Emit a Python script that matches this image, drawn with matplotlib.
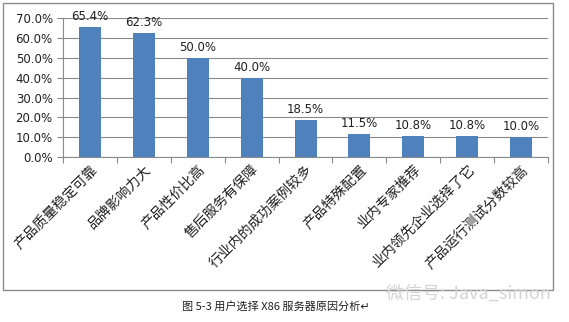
import matplotlib.pyplot as plt
from matplotlib.patches import Rectangle
from matplotlib.ticker import FuncFormatter, MultipleLocator

plt.rcParams['font.family'] = ['Noto Sans CJK SC', 'DejaVu Sans']

reasons = ['产品质量稳定可靠', '品牌影响力大', '产品性价比高', '售后服务有保障',
           '行业内的成功案例较多', '产品特殊配置', '业内专家推荐',
           '业内领先企业选择了它', '产品运行测试分数较高']
shares = [65.4, 62.3, 50.0, 40.0, 18.5, 11.5, 10.8, 10.8, 10.0]

fig = plt.figure(figsize=(5.69, 3.22), dpi=100)
fig.patch.set_facecolor('white')

# outer chart frame
fig.add_artist(Rectangle((0.006, 0.100), 0.966, 0.890, transform=fig.transFigure,
                         fill=False, edgecolor='#8c8c8c', linewidth=1))

ax = fig.add_axes([0.111, 0.512, 0.852, 0.432])
x = range(len(reasons))
ax.bar(x, shares, width=0.41, color='#4f81bd', zorder=3)
for i, v in enumerate(shares):
    ax.text(i, v + 2, f'{v:.1f}%', ha='center', va='bottom', fontsize=8.5,
            family=['DejaVu Sans'], color='#202020')

ax.set_xlim(-0.5, len(reasons) - 0.5)
ax.set_ylim(0, 70)
ax.yaxis.set_major_locator(MultipleLocator(10))
ax.yaxis.set_major_formatter(FuncFormatter(lambda v, p: f'{v:.1f}%'))
ax.grid(axis='y', color='#8a8a8a', linewidth=0.8, zorder=0)
for s in ['top', 'right']:
    ax.spines[s].set_visible(False)
ax.spines['left'].set_color('#8a8a8a')
ax.spines['bottom'].set_color('#8a8a8a')

ax.set_xticks([i - 0.5 for i in range(len(reasons) + 1)], minor=False)
ax.set_xticklabels([])
ax.set_xticks(list(x), minor=True)
ax.set_xticklabels(reasons, minor=True, rotation=45, ha='right',
                   rotation_mode='anchor', fontsize=10, color='#202020')
ax.tick_params(axis='x', which='minor', length=0, pad=4)
ax.tick_params(axis='x', which='major', length=4, color='#8a8a8a')
ax.tick_params(axis='y', length=4, color='#8a8a8a', labelsize=8.5,
               labelcolor='#202020')
for lab in ax.get_yticklabels():
    lab.set_family(['DejaVu Sans'])

# faded watermark
fig.text(0.678, 0.088, '微信号: Java_simon', fontsize=13, color='#d4d4d4',
         va='center', ha='left')
fig.text(0.485, 0.048, '图 5-3 用户选择 X86 服务器原因分析↵', fontsize=8,
         ha='center', va='center', color='#202020')

fig.savefig('out.png', dpi=100)
